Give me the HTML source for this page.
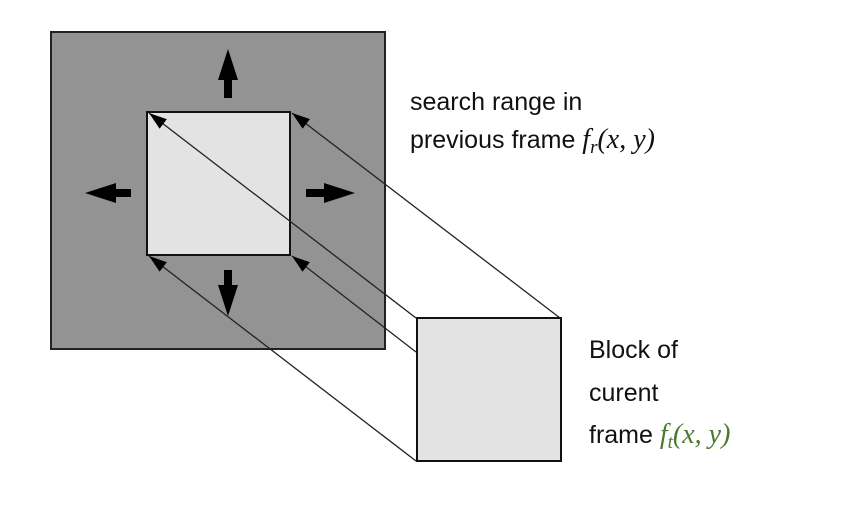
<!DOCTYPE html>
<html><head><meta charset="utf-8"><style>
body{margin:0;background:#fff;width:860px;height:520px;overflow:hidden}
svg text{font-family:"Liberation Sans",sans-serif;font-size:25px;fill:#111}
.m{font-family:"Liberation Serif",serif;font-style:italic}
</style></head><body>
<svg width="860" height="520" viewBox="0 0 860 520">
<defs>
<marker id="b" markerWidth="18" markerHeight="12" refX="18" refY="6" orient="auto" markerUnits="userSpaceOnUse"><path d="M0,0L18,6L0,12z" fill="#000"/></marker></defs>
<rect x="51" y="32" width="334" height="317" fill="#939393" stroke="#222" stroke-width="2"/>
<rect x="147" y="112" width="143" height="143" fill="#e3e3e3" stroke="#111" stroke-width="2"/>
<g fill="#000">
<polygon points="228,49 218,80 224,80 224,98 232,98 232,80 238,80"/>
<polygon points="228,316 218,285 224,285 224,270 232,270 232,285 238,285"/>
<polygon points="85,193 116,183 116,189 131,189 131,197 116,197 116,203"/>
<polygon points="355,193 324,183 324,189 306,189 306,197 324,197 324,203"/>
</g>
<g stroke="#222" stroke-width="1.3" fill="none">
<line x1="416" y1="318" x2="149" y2="113" marker-end="url(#b)"/>
<line x1="416" y1="352" x2="292" y2="256" marker-end="url(#b)"/>
<line x1="560" y1="318" x2="292" y2="113" marker-end="url(#b)"/>
<line x1="416" y1="461" x2="149" y2="256" marker-end="url(#b)"/>
</g>
<rect x="417" y="318" width="144" height="143" fill="#e3e3e3" stroke="#111" stroke-width="2"/>
<text x="410" y="110">search range in</text>
<text x="410" y="148">previous frame <tspan class="m" font-size="28">f</tspan><tspan class="m" font-size="19" dy="5">r</tspan><tspan class="m" font-size="28" dy="-5">(x, y)</tspan></text>
<text x="589" y="358">Block of</text>
<text x="589" y="401">curent</text>
<text x="589" y="443">frame <tspan fill="#4a7a2e"><tspan class="m" font-size="28">f</tspan><tspan class="m" font-size="19" dy="5">t</tspan><tspan class="m" font-size="28" dy="-5">(x, y)</tspan></tspan></text>
</svg>
</body></html>
